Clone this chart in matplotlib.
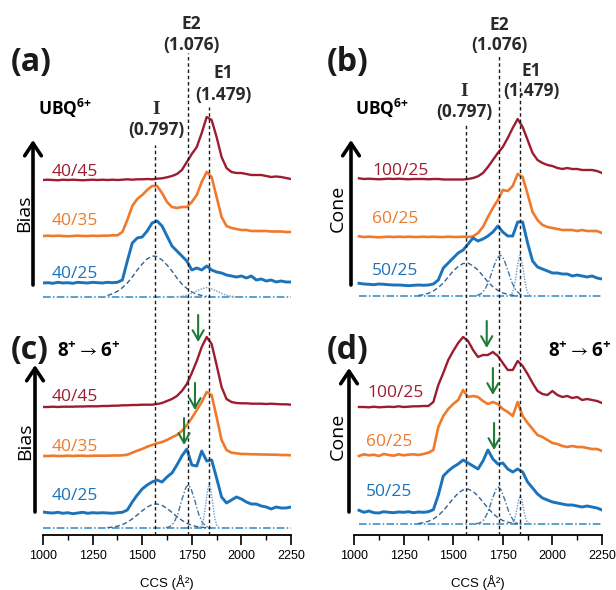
"""Stacked CCS distributions of UBQ6+ (bias / cone series) with fitted components."""

import numpy as np
import matplotlib
matplotlib.use("Agg")
import matplotlib.pyplot as plt
from matplotlib.patches import FancyArrowPatch

plt.rcParams["font.family"] = ["Open Sans", "DejaVu Sans"]
plt.rcParams["mathtext.fontset"] = "custom"
plt.rcParams["mathtext.rm"] = "Open Sans"
plt.rcParams["mathtext.bf"] = "Open Sans:bold"
plt.rcParams["mathtext.fallback"] = "stixsans"

# ===== data (intensity above each trace's own baseline, a.u.) =====
ccs_left = np.arange(1000, 2251, 25)
ccs_right = ccs_left[1:]

# (a) bias series, UBQ6+
a_4045 = [0, 0.3, 0, -0.3, 0.3, 0, 0.3, 0, -0.3, 0, 0.3, 0,
          0.3, 0, 0.3, 0, 0.3, 0.7, 0.3, 0.7,
          0.7, 1, 0.7, 1.3, 1.7, 2.7, 4, 6, 10, 18, 26, 33, 47, 63, 60, 43, 23,
          12, 8, 7, 7, 6, 5, 5, 5, 4, 3, 3.5, 3, 2, 1]
a_4035 = [0, 0.3, 0, 0.3, 0, -0.3, 0, 0.3, 0, 0, 0.3, 0, 0.3, 0.3, 0.7, 0.7,
          4, 16, 30, 37, 41, 46, 50, 50, 43, 34, 29, 28, 29, 29, 34, 41, 54, 64,
          59, 39, 19, 10, 8, 7, 6, 6, 5, 5, 5, 5, 4.5, 4.5, 4.5, 4, 4]
a_4025 = [0, 0.3, -0.3, 0.7, 0, 0.3, -0.3, 0.7, 0.3, 0, 0.7, 0.3, 0, 0.7, 0.3, 0.7,
          3, 22, 40, 45, 46, 52, 60, 62, 57, 47, 37, 32, 27, 22, 13, 15, 13, 17,
          13, 11, 10, 8, 7, 6, 7, 5, 7, 3, 4, 2, 3, 1, 2, 1, 1]

# (b) cone series, UBQ6+
b_10025 = [0.7, 0, 0.3, 0, -0.3, 0, 0.3, 0, 0.3, 0, -0.3, 0, 0,
           0, -0.3, 0, 0, -0.5, -0.5, -0.5, -0.5, -0.5, 0, 1, 2.7, 6, 12, 19, 26,
           32, 41, 51, 60, 52, 39, 26, 19, 16, 14, 13, 11, 10, 11, 10, 10, 9, 9, 9, 8, 6]
b_6025 = [0.7, 0, 0.3, 0, -0.3, 0, 0.3, 0, 0.3, 0, 0.3, 0, 0, 0.3, 0, 0.3, 0, 0,
          0.3, 0, 0, 0.3, 0,
          0.7, 4, 10, 20, 29, 37, 47, 46, 51, 63, 60, 43, 25, 17, 12, 10, 9, 8, 7,
          7, 7, 6, 7, 6, 6, 6, 4]
b_5025 = [0.7, 0, -0.3, -0.7, 0, -0.3, -0.7, -1, -1, -1.3, -1.7, -1.3, -1, -1.3, -1,
          0, 4, 16, 21, 26, 31, 34, 40, 46, 43, 45, 48, 52, 58, 52, 48, 48, 62, 62,
          41, 23, 17, 15, 13, 11, 11, 10, 10, 8, 9, 8, 7, 8, 6, 5]

# (c) bias series, 8+ -> 6+
c_4045 = [0, 0, 0.3, 0, 0.3, 0.3, 0.3, 0.5, 0.5, 0.7, 0.7, 0.7, 1,
          1, 1.3, 1.3, 1.7, 1.7, 2, 2, 2.3, 2.3, 2.3, 3, 4, 6, 8, 11, 16, 23, 34,
          46, 60, 70, 63, 42, 20, 8, 5, 4, 3.7, 3.7, 3.3, 3.3, 3.3, 3, 3.3, 3, 2.7, 2.7, 2.3]
c_4035 = [0, 0, 0.3, 0, 0, 0.3, 0, 0.3, 0.3, 0, 0.3, 0.3, 0.3, 0.3, 0.5, 0.5, 0.7,
          1.3, 3.3, 5.3, 7, 9.3, 11, 12.7, 14, 16, 18.7, 21, 25, 31, 38, 46, 54, 64,
          61, 39, 16, 6, 3.3, 2.7, 2, 2, 1.7, 1.7, 1.5, 1.5, 1.3, 1.3, 1, 1, 0.7]
c_4025 = [1, 0.3, 0, 0.7, -0.3, 0.3, -0.7, 0, 0.7, -0.3, 0.3, 0, 0.3, 0, -0.3, 0.3, 0.7,
          3, 11, 18, 24, 28, 31, 33, 31, 36, 40, 48, 57, 64, 48, 47, 62, 52, 53,
          35, 16, 10, 13, 16, 14, 11, 9, 9, 7, 6, 4, 6, 5, 5, 6]

# (d) cone series, 8+ -> 6+
d_10025 = [0, 0, -0.3, 0.3, -0.3, 0, 0.3, 0, 0.7, 0, 0.3, 0.7, 0.7, 1,
           1, 5, 22, 34, 47, 56, 64, 70, 66, 57, 50, 52, 52, 55, 51, 44, 37, 37,
           46, 41, 33, 24, 16, 13, 12, 16, 12, 10, 11, 9, 10, 7, 8, 7, 6, 4]
d_6025 = [-1, 0.7, -0.3, 0.3, -1, 1, 0, -0.7, 0.7, -0.3, 0.3, 0.7, 0, 1,
          2.3, 5, 28, 39, 46, 51, 55, 65, 58, 59, 58, 54, 51, 53, 51, 46, 43, 39,
          53, 39, 32, 26, 20, 18, 15, 12, 11, 9, 8, 9, 8, 8, 7, 6, 6, 4]
d_5025 = [1.7, -0.3, 1, -0.7, -1, 0.3, -0.3, -0.7, 0, -0.3, 0.3, -0.7, 0, -0.3, 0.3,
          2.3, 17, 36, 41, 45, 48, 52, 49, 46, 43, 51, 62, 53, 48, 49, 43, 40, 43,
          40, 30, 24, 18, 14, 12, 10, 9, 8, 7, 7, 6, 5, 6, 5, 4, 2]

# fitted components of the lowest trace in each panel
fit_i_x = np.arange(1325, 1826, 25)
a_fit_i = [1.5, 3.2, 5.7, 9.3, 14, 20, 27, 33, 38, 41, 40.5, 37, 32, 26, 19, 13,
           8.5, 5, 2.8, 1.5, 0.6]
a_fit_e1_x = np.arange(1675, 1976, 25)
a_fit_e1 = [0.2, 0.7, 1.7, 3.6, 6, 8.1, 9.5, 8.1, 6, 3.6, 1.7, 0.7, 0.2]

b_fit_i = [0.6, 1.3, 2.7, 5, 8.5, 13, 19, 25, 29.5, 32.5, 33, 30, 26, 20, 14, 9.3,
           5.6, 3.1, 1.6, 0.7, 0.3]
b_fit_e2_x = [1620, 1640, 1660, 1680, 1700, 1720, 1737, 1755, 1775, 1795, 1815, 1835, 1855]
b_fit_e2 = [0.6, 2.2, 6.4, 15, 27, 37.5, 41, 37, 26, 14, 6, 2, 0.5]
b_fit_e1_x = [1785, 1795, 1805, 1815, 1825, 1837, 1850, 1860, 1870, 1880, 1890]
b_fit_e1 = [0.4, 1.9, 7, 17.7, 32, 41, 30.6, 16.4, 6.2, 1.7, 0.3]

c_fit_i = [0.4, 0.9, 1.8, 3.4, 5.8, 9.1, 13, 17.2, 20.9, 23.4, 24, 22.6, 19.6, 15.6,
           11.4, 7.7, 4.7, 2.7, 1.4, 0.7, 0.3]
c_fit_e2_x = [1620, 1640, 1660, 1680, 1700, 1720, 1732, 1745, 1765, 1785, 1805, 1825, 1845]
c_fit_e2 = [0.3, 1.4, 5.2, 14.3, 28.3, 40.5, 43, 40, 27.6, 13.6, 4.9, 1.3, 0.2]
c_fit_e1_x = [1790, 1800, 1810, 1820, 1830, 1838, 1846, 1856, 1866, 1876, 1886]
c_fit_e1 = [0.5, 2.6, 9.5, 23.4, 38.8, 44, 38.8, 23.4, 9.5, 2.6, 0.5]

d_fit_i = [0.6, 1.3, 2.7, 5, 8.5, 13.3, 19.2, 25.4, 30.8, 34.2, 34.9, 32.6, 28, 22,
           15.9, 10.5, 6.4, 3.5, 1.8, 0.8, 0.4]
d_fit_e2_x = [1616, 1636, 1656, 1676, 1696, 1716, 1728, 1741, 1761, 1781, 1801, 1821, 1841]
d_fit_e2 = [0.3, 1.2, 4.5, 12.3, 24.4, 34.8, 37, 34.4, 23.7, 11.7, 4.2, 1.1, 0.2]
d_fit_e1_x = c_fit_e1_x
d_fit_e1 = [0.2, 1.1, 4.9, 13.6, 24.3, 28, 24.3, 13.6, 4.9, 1.1, 0.2]

# conformer families: name, relative value, CCS position
peak_names = ["I", "E2", "E1"]
peak_values = ["(0.797)", "(1.076)", "(1.479)"]
peak_ccs = [1563, 1732, 1835]

# green arrows: CCS position of each arrow
c_arrow_ccs = [1782, 1766, 1711]
d_arrow_ccs = [1669, 1700, 1706]
# ==================================================================

W, H = 616, 590
RED, ORANGE, BLUE = "#9d1c2f", "#f07a2b", "#1b74bb"
TXT = "#2a2a2a"
TICKFONT = ["Liberation Sans Narrow", "Liberation Sans"]


def fy(py):
    # y pixel from top -> axes data y (axes bottom sits at py=535)
    return 535 - py


def ftext(x, y, s, **kw):
    return fig.text(x / W, 1 - y / H, s, **kw)


def big_arrow(x, y0, y1):
    fig.add_artist(FancyArrowPatch(
        (x / W, 1 - y0 / H), (x / W, 1 - y1 / H), transform=fig.transFigure,
        arrowstyle="->,head_length=0.45,head_width=0.3", mutation_scale=20,
        lw=2.6, color="black", shrinkA=0, shrinkB=0))


fig = plt.figure(figsize=(W / 100, H / 100), dpi=100)
fig.patch.set_facecolor("white")
ax_l = fig.add_axes([43 / W, 55 / H, 248 / W, 535 / H])
ax_r = fig.add_axes([354 / W, 55 / H, 248 / W, 535 / H])

for ax in (ax_l, ax_r):
    ax.set_xlim(1000, 2250)
    ax.set_ylim(0, 535)
    ax.patch.set_visible(False)
    for side in ("top", "right", "left"):
        ax.spines[side].set_visible(False)
    ax.spines["bottom"].set_linewidth(1.3)
    ax.set_yticks([])
    ax.set_xticks(range(1000, 2251, 250))
    ax.set_xticks(range(1125, 2251, 250), minor=True)
    ax.tick_params(axis="x", which="major", direction="out", length=7, width=1.2,
                   pad=4, labelsize=9)
    ax.tick_params(axis="x", which="minor", direction="out", length=3.5, width=1.0)
    for lbl in ax.get_xticklabels():
        lbl.set_family(TICKFONT)
    ax.text(0.5, -0.0897, "CCS (Å²)", transform=ax.transAxes, ha="center",
            va="center", fontsize=9.5, family=TICKFONT)

# traces: (axes, x, values, baseline, colour, lw)
traces = [
    (ax_l, ccs_left, a_4045, fy(180), RED, 1.7),
    (ax_l, ccs_left, a_4035, fy(236), ORANGE, 1.9),
    (ax_l, ccs_left, a_4025, fy(283), BLUE, 2.1),
    (ax_r, ccs_right, b_10025, fy(179), RED, 1.7),
    (ax_r, ccs_right, b_6025, fy(237), ORANGE, 1.9),
    (ax_r, ccs_right, b_5025, fy(284), BLUE, 2.1),
    (ax_l, ccs_left, c_4045, fy(407), RED, 1.7),
    (ax_l, ccs_left, c_4035, fy(456), ORANGE, 1.9),
    (ax_l, ccs_left, c_4025, fy(513), BLUE, 2.1),
    (ax_r, ccs_right, d_10025, fy(407), RED, 1.7),
    (ax_r, ccs_right, d_6025, fy(455), ORANGE, 1.9),
    (ax_r, ccs_right, d_5025, fy(512), BLUE, 2.1),
]
for ax, x, vals, base, col, lw in traces:
    ax.plot(x, np.asarray(vals) + base, color=col, lw=lw, zorder=3,
            solid_joinstyle="round")

# fitted components and their zero line
fits = [
    (ax_l, fy(297), ccs_left, [(fit_i_x, a_fit_i, "i"), (a_fit_e1_x, a_fit_e1, "e1")]),
    (ax_r, fy(296), ccs_right, [(fit_i_x, b_fit_i, "i"), (b_fit_e2_x, b_fit_e2, "e2"),
                                (b_fit_e1_x, b_fit_e1, "e1")]),
    (ax_l, fy(528), ccs_left, [(fit_i_x, c_fit_i, "i"), (c_fit_e2_x, c_fit_e2, "e2"),
                               (c_fit_e1_x, c_fit_e1, "e1")]),
    (ax_r, fy(524), ccs_right, [(fit_i_x, d_fit_i, "i"), (d_fit_e2_x, d_fit_e2, "e2"),
                                (d_fit_e1_x, d_fit_e1, "e1")]),
]
fit_style = {
    "i": dict(color="#36618f", ls=(0, (3.5, 2)), lw=1.0),
    "e2": dict(color="#44759f", ls=(0, (4, 1.5, 1, 1.5)), lw=1.0),
    "e1": dict(color="#6f9cc8", ls=(0, (1, 1)), lw=1.0),
}
for ax, base, xr, comps in fits:
    ax.plot([xr[0], xr[-1]], [base, base], color="#2f86c4", lw=1.1,
            ls=(0, (5, 1.5, 1, 1.5)), zorder=2)
    for fx, fv, kind in comps:
        ax.plot(fx, np.asarray(fv) + base, zorder=2, **fit_style[kind])

# dashed reference lines (top end in pixels per column)
line_tops = {ax_l: [145, 53, 107], ax_r: [123, 55, 80]}
for ax, tops in line_tops.items():
    for c, top in zip(peak_ccs, tops):
        ax.plot([c, c], [0, fy(top)], color="#1a1a1a", lw=1.0,
                ls=(0, (2.5, 2)), zorder=4)

# green arrows
for ax, xs, tips in ((ax_l, c_arrow_ccs, [342, 410, 445]),
                     (ax_r, d_arrow_ccs, [348, 395, 450])):
    for x, tip in zip(xs, tips):
        ax.annotate("", xy=(x, fy(tip)), xytext=(x, fy(tip - 27)),
                    arrowprops=dict(arrowstyle="->,head_length=0.7,head_width=0.4",
                                    mutation_scale=10, lw=1.5, color="#1f7a36",
                                    shrinkA=0, shrinkB=0), zorder=6)

# peak labels
label_pos = {
    "left": [(156, 109, 130), (191, 24, 45), (223, 73, 95)],
    "right": [(464, 91, 112), (499, 25, 45), (531, 71, 91)],
}
for col in ("left", "right"):
    for name, value, (x, y1, y2) in zip(peak_names, peak_values, label_pos[col]):
        if name == "I":
            ftext(x, y1, name, ha="center", va="center", fontsize=14,
                  fontweight="bold", family=["Liberation Serif", "DejaVu Serif"],
                  color=TXT)
        else:
            ftext(x, y1, name, ha="center", va="center", fontsize=12.5,
                  fontweight="bold", color=TXT)
        ftext(x, y2, value, ha="center", va="center", fontsize=12.5,
              fontweight="bold", color=TXT, zorder=5)

# panel letters and headings
for s, x, y in (("(a)", 11, 63), ("(b)", 327, 63), ("(c)", 11, 351), ("(d)", 327, 351)):
    ftext(x, y, s, ha="left", va="center", fontsize=23, fontweight="bold", color="#1a1a1a")
for x in (38, 355):
    ftext(x, 108, r"$\mathbf{UBQ^{6{+}}}$", ha="left", va="center", fontsize=12.5)
ftext(57, 351, r"$\mathbf{8^{+}}\rightarrow\mathbf{6^{+}}$", ha="left", va="center",
      fontsize=13.5)
ftext(548, 351, r"$\mathbf{8^{+}}\rightarrow\mathbf{6^{+}}$", ha="left", va="center",
      fontsize=13.5)

# direction arrows with axis words
big_arrow(33, 285, 140)
big_arrow(351, 285, 140)
big_arrow(35, 512, 365)
big_arrow(349, 512, 368)
ftext(24, 213, "Bias", rotation=90, ha="center", va="center", fontsize=14)
ftext(338, 208, "Cone", rotation=90, ha="center", va="center", fontsize=14)
ftext(25, 441, "Bias", rotation=90, ha="center", va="center", fontsize=14)
ftext(338, 436, "Cone", rotation=90, ha="center", va="center", fontsize=14)

# trace labels
trace_labels = [
    ("40/45", 52, 172, RED), ("40/35", 52, 221, ORANGE), ("40/25", 52, 274, BLUE),
    ("100/25", 372, 171, RED), ("60/25", 372, 219, ORANGE), ("50/25", 372, 271, BLUE),
    ("40/45", 52, 397, RED), ("40/35", 52, 447, ORANGE), ("40/25", 52, 496, BLUE),
    ("100/25", 367, 393, RED), ("60/25", 366, 442, ORANGE), ("50/25", 366, 492, BLUE),
]
for s, x, y, col in trace_labels:
    ftext(x, y, s, ha="left", va="center", fontsize=12.5, color=col)

fig.savefig("out.png", dpi=100, facecolor="white")
plt.close(fig)
